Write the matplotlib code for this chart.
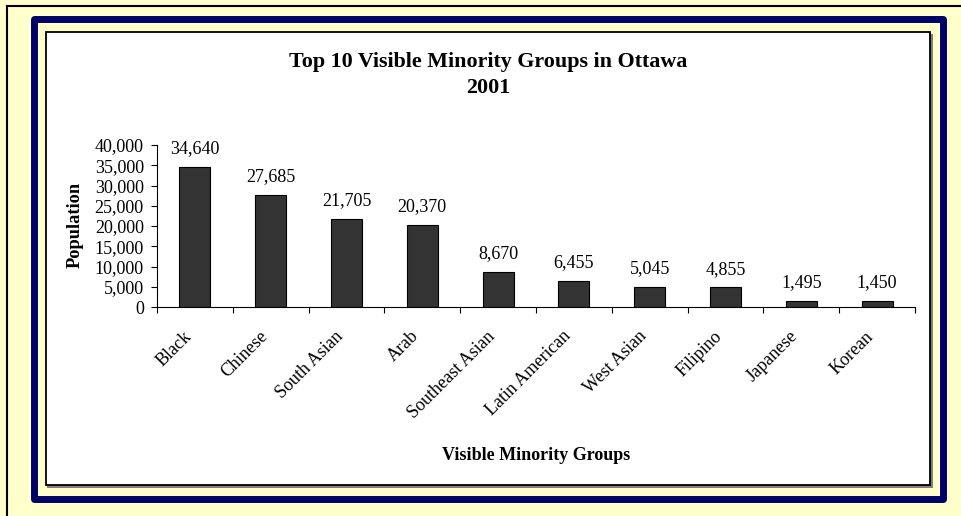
import matplotlib
matplotlib.use("Agg")
import matplotlib.pyplot as plt
from matplotlib.patches import Rectangle
from matplotlib.lines import Line2D
from matplotlib.ticker import FuncFormatter, MultipleLocator
from matplotlib.transforms import ScaledTranslation

groups = ["Black", "Chinese", "South Asian", "Arab", "Southeast Asian",
          "Latin American", "West Asian", "Filipino", "Japanese", "Korean"]
population = [34640, 27685, 21705, 20370, 8670, 6455, 5045, 4855, 1495, 1450]

plt.rcParams['font.family'] = ['Liberation Serif', 'DejaVu Serif']

W, H = 962, 516
fig = plt.figure(figsize=(W / 100, H / 100), dpi=100, facecolor='#FFFFCC')

def fx(px):
    return px / W

def fy(py):
    return 1 - py / H

# outer black lines (top and left)
fig.add_artist(Line2D([fx(6.5), fx(6.5)], [0, fy(5.5)], color='black', lw=1.5, transform=fig.transFigure))
fig.add_artist(Line2D([fx(6.5), 1.01], [fy(5.5), fy(5.5)], color='black', lw=1.5, transform=fig.transFigure))

# navy frame
fig.add_artist(Rectangle((fx(33.5), fy(498.5)), fx(943) - fx(33.5), fy(19.5) - fy(498.5),
                         facecolor='none', edgecolor='#000066', lw=5.0, joinstyle='round',
                         transform=fig.transFigure))

# inner white panel with shadow
fig.add_artist(Rectangle((fx(47), fy(487.5)), fx(931) - fx(45), fy(31) - fy(485),
                         facecolor='#808080', edgecolor='none', transform=fig.transFigure))
fig.add_artist(Rectangle((fx(45.5), fy(485)), fx(929.5) - fx(45.5), fy(31.5) - fy(485),
                         facecolor='white', edgecolor='black', lw=1.3, transform=fig.transFigure))

ax = fig.add_axes([fx(157), fy(307), fx(915) - fx(157), fy(145) - fy(307)])
ax.set_facecolor('none')
ax.set_zorder(5)

x = list(range(len(groups)))
bars = ax.bar(x, population, width=0.41, color='#333333', edgecolor='black', lw=0.8)
for xi, v in zip(x, population):
    ax.text(xi, v + 2400, f"{v:,}", ha='center', va='bottom', fontsize=13)

ax.set_xlim(-0.5, len(groups) - 0.5)
ax.set_ylim(0, 40000)
ax.yaxis.set_major_locator(MultipleLocator(5000))
ax.yaxis.set_major_formatter(FuncFormatter(lambda v, p: f"{int(v):,}"))

ax.set_xticks([i - 0.5 for i in range(len(groups) + 1)])
ax.set_xticklabels([])
ax.set_xticks(x, minor=True)
ax.set_xticklabels(groups, minor=True, rotation=45, ha='right', rotation_mode='anchor', fontsize=13)
ax.tick_params(axis='x', which='minor', length=0, pad=15)
ax.tick_params(axis='x', which='major', direction='out', length=4, width=0.8)
ax.tick_params(axis='y', direction='out', length=4, width=0.8, labelsize=13, pad=5.5)

shift = ScaledTranslation(-12 / 100, 0, fig.dpi_scale_trans)
for lab in ax.get_xticklabels(minor=True):
    lab.set_transform(lab.get_transform() + shift)

for s in ['top', 'right']:
    ax.spines[s].set_visible(False)
ax.spines['left'].set_linewidth(0.8)
ax.spines['bottom'].set_linewidth(0.8)

fig.text(fx(488), fy(62), "Top 10 Visible Minority Groups in Ottawa", ha='center', va='center',
         fontsize=15.8, fontweight='bold')
fig.text(fx(488), fy(88), "2001", ha='center', va='center', fontsize=15.8, fontweight='bold')
fig.text(fx(75), fy(225), "Population", ha='center', va='center', rotation=90,
         fontsize=13.2, fontweight='bold')
fig.text(fx(536), fy(456), "Visible Minority Groups", ha='center', va='center',
         fontsize=13, fontweight='bold')

fig.savefig("out.png", dpi=100, facecolor=fig.get_facecolor())
